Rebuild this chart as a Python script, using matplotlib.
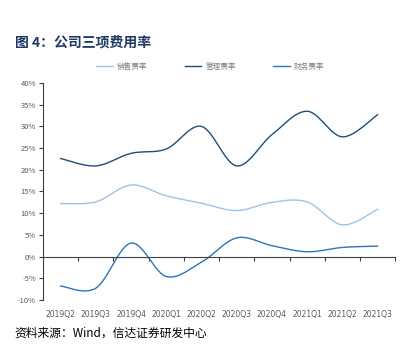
import numpy as np
import matplotlib
matplotlib.use('Agg')
import matplotlib.pyplot as plt
from matplotlib.ticker import FuncFormatter

plt.rcParams['font.family'] = ['Noto Sans CJK SC', 'DejaVu Sans']

# 数据
quarters = ['2019Q2', '2019Q3', '2019Q4', '2020Q1', '2020Q2',
            '2020Q3', '2020Q4', '2021Q1', '2021Q2', '2021Q3']
sales = [12.2, 12.6, 16.5, 14.0, 12.3, 10.6, 12.5, 12.6, 7.3, 10.9]
admin = [22.6, 20.9, 23.8, 24.8, 30.0, 20.9, 28.1, 33.5, 27.6, 32.7]
finance = [-6.8, -7.3, 3.1, -4.6, -1.3, 4.3, 2.5, 1.1, 2.1, 2.4]
labels = ['销售费率', '管理费率', '财务费率']
colors = ['#9DC3E6', '#1F4E79', '#2E75B6']


def smooth(y, n=30):
    # 类似 Excel 的平滑线 (Catmull-Rom 贝塞尔)
    y = np.asarray(y, dtype=float)
    x = np.arange(len(y), dtype=float)
    pts = np.column_stack([x, y])
    out = []
    for i in range(len(pts) - 1):
        p0 = pts[max(i - 1, 0)]
        p1 = pts[i]
        p2 = pts[i + 1]
        p3 = pts[min(i + 2, len(pts) - 1)]
        c1 = p1 + (p2 - p0) / 6.0
        c2 = p2 - (p3 - p1) / 6.0
        t = np.linspace(0, 1, n)[:, None]
        seg = ((1 - t) ** 3) * p1 + 3 * ((1 - t) ** 2) * t * c1 + 3 * (1 - t) * t ** 2 * c2 + t ** 3 * p2
        out.append(seg if i == 0 else seg[1:])
    seg = np.vstack(out)
    return seg[:, 0], seg[:, 1]


fig = plt.figure(figsize=(4.02, 3.52), dpi=100)
ax = fig.add_axes([0.107, 0.148, 0.876, 0.616])

for data, lab, c in zip([sales, admin, finance], labels, colors):
    sx, sy = smooth(data)
    ax.plot(sx, sy, color=c, lw=1.0, label=lab)

ax.set_xlim(-0.5, len(quarters) - 0.5)
ax.set_ylim(-10, 40)
ax.set_yticks(np.arange(-10, 41, 5))
ax.yaxis.set_major_formatter(FuncFormatter(lambda v, p: '%d%%' % v))

ax.spines['top'].set_visible(False)
ax.spines['right'].set_visible(False)
ax.spines['left'].set_color('#404040')
ax.spines['left'].set_linewidth(0.8)
ax.spines['bottom'].set_position(('data', 0))
ax.spines['bottom'].set_color('#404040')
ax.spines['bottom'].set_linewidth(0.8)

ax.set_xticks(np.arange(0.5, len(quarters) - 0.5, 1.0).tolist() + [len(quarters) - 0.5])
ax.set_xticklabels([])
ax.tick_params(axis='x', direction='out', length=3, color='#404040', width=0.8)
ax.tick_params(axis='y', direction='out', length=3, color='#404040', width=0.8,
               labelsize=5.5, labelcolor='#595959', pad=2)

for i, q in enumerate(quarters):
    ax.text(i, -0.045, q, transform=ax.get_xaxis_transform(), ha='center', va='top',
            fontsize=5.5, color='#595959', family=['DejaVu Sans'])

fig.legend(loc='center', bbox_to_anchor=(0.523, 0.81), ncol=3, frameon=False,
           fontsize=5.5, labelcolor='#7F7F7F', handlelength=2.2, handletextpad=0.5,
           columnspacing=4.9)

fig.text(0.037, 0.878, '图 4：公司三项费用率', fontsize=10, fontweight='bold',
         color='#1F3864', ha='left', va='center')
fig.text(0.035, 0.053, '资料来源：Wind，信达证券研发中心', fontsize=8.5,
         color='#000000', ha='left', va='center', style='italic')

fig.savefig('out.png', dpi=100)
